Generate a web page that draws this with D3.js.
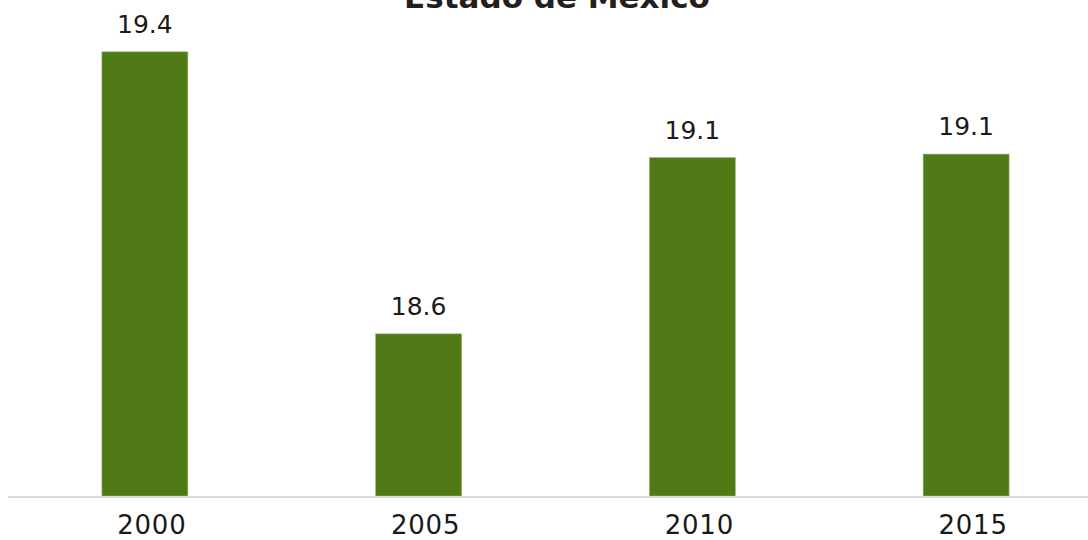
<!DOCTYPE html>
<html><head><meta charset="utf-8">
<script src="https://cdn.jsdelivr.net/npm/d3@7"></script>
<style>
html,body{margin:0;padding:0;background:#fff;}
svg{display:block;}
text{font-family:"DejaVu Sans",sans-serif;}
</style></head>
<body>
<svg id="chart" width="1088" height="540"></svg>
<script>
const title = "Estado de México";
const categories = ["2000", "2005", "2010", "2015"];
const values = [19.4, 18.6, 19.10, 19.11];
const yDomain = [18.14, 19.5];

(function(){
const W = 1088, H = 540;
const svg = d3.select("#chart");
const left = 8, right = 1103, base = 496, topY = 496 - 352.5 * (yDomain[1] - yDomain[0]);

const x = d3.scaleBand().domain(categories).range([left, right]).paddingInner(0.686).paddingOuter(0.343);
const y = d3.scaleLinear().domain(yDomain).range([base, topY]);

svg.append("g").selectAll("rect").data(values).join("rect")
  .attr("x", (d,i) => x(categories[i]))
  .attr("y", d => y(d))
  .attr("width", x.bandwidth())
  .attr("height", d => base - y(d))
  .attr("fill", "#507a16")
  .attr("stroke", "#9bb77a").attr("stroke-width", 0.6);

const axis = d3.axisBottom(x).tickSize(0).tickPadding(0);
const ax = svg.append("g").attr("transform", `translate(0,${base})`).call(axis);
ax.select(".domain").attr("stroke", "#d9d9d9").attr("stroke-width", 2).attr("d", `M${left},1H${W}`);
ax.selectAll(".tick text").attr("font-family", "DejaVu Sans").attr("font-size", 26).attr("fill", "#1a1a1a")
  .attr("letter-spacing", 0.8)
  .attr("dy", null).attr("y", 38).attr("dx", 7);

svg.append("g").selectAll("text").data(values).join("text")
  .attr("x", (d,i) => x(categories[i]) + x.bandwidth()/2)
  .attr("y", d => y(d) - 19)
  .attr("text-anchor", "middle")
  .attr("font-size", 25).attr("fill", "#1a1a1a")
  .text(d => d3.format(".1f")(d));

svg.append("text").attr("x", 557).attr("y", 8).attr("text-anchor", "middle")
  .attr("font-size", 31).attr("font-weight", "bold").attr("fill", "#231f20")
  .text(title);
})();
</script>
</body></html>
